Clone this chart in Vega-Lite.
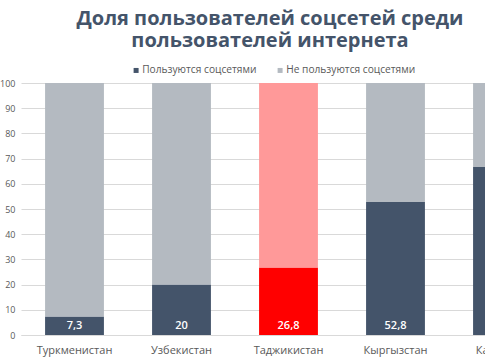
{
  "$schema": "https://vega.github.io/schema/vega-lite/v6.json",
  "autosize": {"type": "none"},
  "width": 464,
  "height": 252,
  "padding": {"left": 21, "top": 83, "right": 0, "bottom": 25},
  "background": "white",
  "config": {
    "view": {"stroke": null},
    "font": "Open Sans",
    "locale": {"number": {"decimal": ",", "thousands": " ", "grouping": [3], "currency": ["", ""]}}
  },
  "title": {
    "text": ["Доля пользователей соцсетей среди", "пользователей интернета"],
    "font": "Open Sans",
    "fontSize": 20,
    "fontWeight": 700,
    "color": "#44546A",
    "lineHeight": 22,
    "anchor": "middle",
    "frame": "group",
    "dx": 17,
    "offset": 14
  },
  "data": {
    "values": [
      {"country": "Туркменистан", "group": "Пользуются соцсетями", "value": 7.3},
      {"country": "Туркменистан", "group": "Не пользуются соцсетями", "value": 92.7},
      {"country": "Узбекистан", "group": "Пользуются соцсетями", "value": 20},
      {"country": "Узбекистан", "group": "Не пользуются соцсетями", "value": 80},
      {"country": "Таджикистан", "group": "Пользуются соцсетями", "value": 26.8},
      {"country": "Таджикистан", "group": "Не пользуются соцсетями", "value": 73.2},
      {"country": "Кыргызстан", "group": "Пользуются соцсетями", "value": 52.8},
      {"country": "Кыргызстан", "group": "Не пользуются соцсетями", "value": 47.2},
      {"country": "Казахстан", "group": "Пользуются соцсетями", "value": 66.7},
      {"country": "Казахстан", "group": "Не пользуются соцсетями", "value": 33.3}
    ]
  },
  "resolve": {"axis": {"y": "independent"}},
  "encoding": {
    "x": {
      "field": "country",
      "type": "nominal",
      "sort": null,
      "scale": {"range": [0, 535], "paddingInner": 0.45, "paddingOuter": 0.225},
      "axis": {
        "title": null,
        "labelAngle": 0,
        "labelFontSize": 11,
        "labelColor": "#595959",
        "labelPadding": 9,
        "ticks": false,
        "domain": true,
        "domainColor": "#D9D9D9",
        "labelOverlap": false,
        "labelBound": false
      }
    }
  },
  "layer": [
    {
      "mark": {"type": "bar"},
      "encoding": {
        "y": {
          "field": "value",
          "type": "quantitative",
          "stack": "zero",
          "scale": {"domain": [0, 100], "nice": false},
          "axis": {
            "title": null,
            "values": [0, 10, 20, 30, 40, 50, 60, 70, 80, 90, 100],
            "labelOverlap": false,
            "labelFontSize": 9,
            "labelColor": "#595959",
            "labelPadding": 6,
            "ticks": false,
            "domain": false,
            "gridColor": "#D9D9D9",
            "gridWidth": 1
          }
        },
        "color": {
          "condition": [
            {"test": "datum.country === 'Таджикистан' && datum.group === 'Пользуются соцсетями'", "value": "#FF0000"},
            {"test": "datum.country === 'Таджикистан' && datum.group === 'Не пользуются соцсетями'", "value": "#FF9999"}
          ],
          "field": "group",
          "type": "nominal",
          "sort": ["Пользуются соцсетями", "Не пользуются соцсетями"],
          "scale": {"domain": ["Пользуются соцсетями", "Не пользуются соцсетями"], "range": ["#44546A", "#B4BAC1"]},
          "legend": {
            "title": null,
            "orient": "none",
            "direction": "horizontal",
            "legendX": 110,
            "legendY": -18,
            "symbolType": "square",
            "symbolSize": 25,
            "symbolStrokeWidth": 0,
            "labelFontSize": 10.2,
            "labelColor": "#595959",
            "columnPadding": 18,
            "labelOffset": 1
          }
        },
        "order": {"field": "group", "sort": "descending"}
      }
    },
    {
      "transform": [{"filter": "datum.group === 'Пользуются соцсетями'"}],
      "mark": {"type": "text", "color": "white", "fontSize": 11, "fontWeight": 600, "baseline": "bottom", "dy": -4},
      "encoding": {
        "y": {"datum": 0, "type": "quantitative", "axis": null},
        "text": {"field": "value", "type": "quantitative", "format": ".1~f"}
      }
    }
  ]
}
